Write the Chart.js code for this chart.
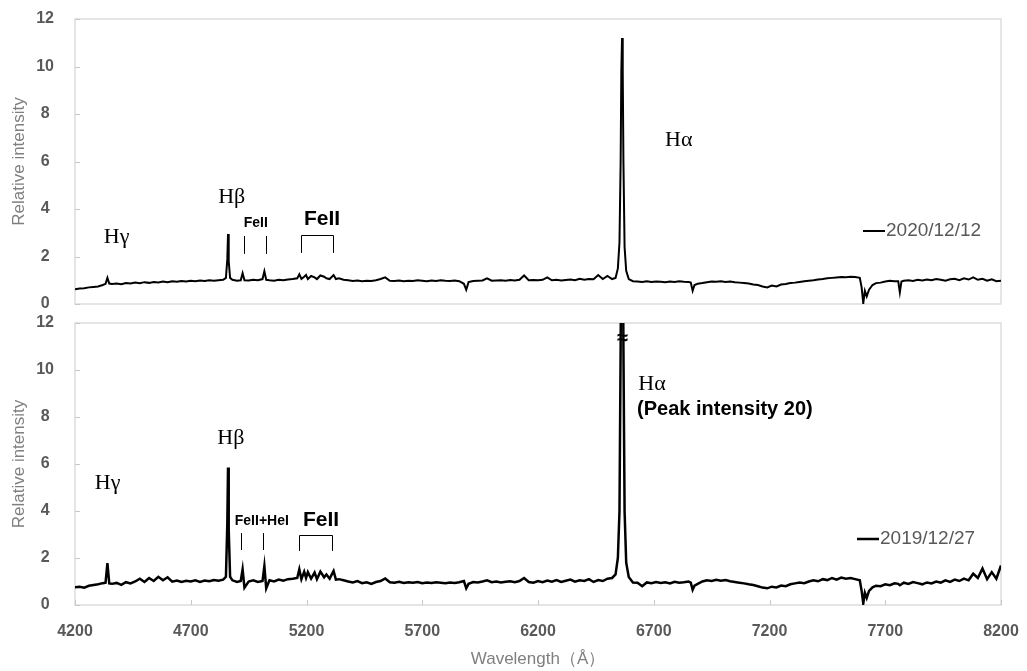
<!DOCTYPE html>
<html>
<head>
<meta charset="utf-8">
<script src="https://cdn.jsdelivr.net/npm/chart.js@4.4.1/dist/chart.umd.min.js"></script>
<style>
  html, body { margin: 0; padding: 0; background: #fff; }
  #wrap { position: relative; width: 1027px; height: 671px; }
  canvas { position: absolute; left: 0; }
  #chartTop { top: 0; }
  #chartBottom { top: 312px; }
</style>
</head>
<body>
<div id="wrap">
  <canvas id="chartTop" width="1027" height="312"></canvas>
  <canvas id="chartBottom" width="1027" height="359"></canvas>
</div>
<script>
// Wavelength grid (Å), shared by both spectra
const wavelengths = [
  4200, 4220, 4240, 4260, 4280, 4300, 4320,
  4332, 4340, 4348,
  4360, 4380, 4400, 4420, 4440, 4460, 4480, 4500, 4520, 4540, 4560, 4580, 4600, 4620, 4640, 4660, 4680, 4700, 4720, 4740, 4760, 4780, 4800, 4820, 4840,
  4852, 4858, 4861, 4864, 4870,
  4880, 4900, 4916, 4924, 4932, 4950, 4970, 4990, 5010, 5018, 5026, 5040, 5060, 5080, 5100, 5120, 5140, 5160, 5169, 5178, 5190, 5198, 5206, 5220, 5235, 5245, 5260, 5276, 5286, 5300, 5317, 5327, 5340,
  5360, 5380, 5400, 5420, 5440, 5460, 5480, 5500, 5520, 5540, 5560, 5580, 5600, 5620, 5640, 5660, 5680, 5700, 5720, 5740, 5760, 5780, 5800, 5820, 5840, 5860,
  5880, 5890, 5900,
  5920, 5940, 5960, 5980, 6000, 6020, 6040, 6060, 6080, 6100, 6120, 6140, 6160, 6180, 6200, 6220, 6240, 6260, 6280, 6300, 6320, 6340, 6360, 6380, 6400, 6420, 6440, 6460, 6480, 6500, 6520,
  6535, 6545, 6552, 6557, 6560, 6563, 6566, 6569, 6574, 6581, 6592, 6610,
  6630, 6650, 6670, 6690, 6710, 6730, 6750, 6770, 6790, 6810, 6830, 6850,
  6860, 6868, 6876, 6890,
  6910, 6930, 6950, 6970, 6990, 7010, 7030, 7050, 7070, 7090, 7110, 7130, 7150, 7170, 7190, 7210, 7230, 7250, 7270, 7290, 7310, 7330, 7350, 7370, 7390, 7410, 7430, 7450, 7470, 7490, 7510, 7530, 7550, 7570, 7590,
  7598, 7605, 7612, 7620, 7630, 7645, 7660,
  7680, 7700, 7720, 7740, 7756, 7763, 7770, 7780, 7800, 7820, 7840, 7860, 7880, 7900, 7920, 7940, 7960, 7980, 8000, 8020, 8040, 8060, 8080, 8100, 8120, 8140, 8160, 8180, 8200
];

// 2020/12/12 spectrum
const intensity2020 = [
  0.62, 0.65, 0.66, 0.70, 0.72, 0.74, 0.80,
  0.85, 1.10, 0.86,
  0.84, 0.86, 0.83, 0.88, 0.86, 0.90, 0.87, 0.92, 0.89, 0.93, 0.91, 0.95, 0.92, 0.96, 0.94, 0.97, 0.95, 0.98, 0.96, 0.99, 0.97, 1.00, 0.98, 1.00, 1.02,
  1.10, 1.90, 2.95, 1.80, 1.10,
  1.02, 0.98, 1.00, 1.30, 1.00, 0.99, 1.02, 1.00, 1.05, 1.38, 1.02, 1.00, 0.98, 1.02, 1.00, 1.03, 1.05, 1.08, 1.25, 1.06, 1.15, 1.22, 1.05, 1.18, 1.12, 1.05, 1.20, 1.15, 1.08, 1.05, 1.22, 1.05, 1.08,
  1.02, 1.00, 0.97, 0.99, 0.96, 0.98, 0.97, 1.00, 1.05, 1.12, 0.98, 0.97, 0.99, 0.96, 0.98, 0.97, 1.00, 0.98, 0.96, 0.99, 0.97, 1.00, 0.98, 0.97, 0.99, 0.96,
  0.85, 0.60, 0.92,
  0.97, 0.98, 0.99, 1.08, 0.98, 0.99, 1.00, 0.98, 1.01, 0.99, 1.02, 1.20, 1.00, 1.01, 1.00, 1.02, 1.12, 1.00, 1.02, 0.99, 1.01, 1.03, 1.00, 1.06, 1.02, 1.05, 1.04, 1.22, 1.05, 1.18, 1.05,
  1.10, 1.50, 2.60, 6.00, 9.80, 11.20, 9.80, 6.00, 2.40, 1.40, 1.05, 0.96,
  0.95, 0.93, 0.96, 0.93, 0.95, 0.94, 0.92, 0.95, 0.93, 0.96, 0.94, 0.93,
  0.90, 0.56, 0.80, 0.85,
  0.88, 0.92, 0.95, 0.94, 0.96, 0.93, 0.95, 0.92, 0.90, 0.88, 0.86, 0.82, 0.80, 0.74, 0.70, 0.78, 0.74, 0.82, 0.84, 0.88, 0.90, 0.93, 0.96, 0.98, 1.00, 1.03, 1.05, 1.08, 1.10, 1.12, 1.14, 1.13, 1.15, 1.14, 1.10,
  0.70, 0.03, 0.55, 0.32, 0.60, 0.80, 0.88,
  0.90, 0.95, 0.98, 0.96, 0.96, 0.49, 0.95, 0.98, 1.00, 0.97, 1.02, 0.99, 1.03, 1.00, 1.05, 1.02, 0.98, 1.04, 1.06, 1.00, 1.08, 1.03, 1.12, 1.02, 1.06, 0.98, 1.04, 0.96, 0.98
];

// 2019/12/27 spectrum (H-alpha peak 20, off scale)
const intensity2019 = [
  0.75, 0.78, 0.74, 0.82, 0.85, 0.88, 0.93,
  0.95, 1.78, 0.92,
  0.90, 0.94, 0.86, 0.97, 0.92, 1.00, 1.12, 0.98, 1.15, 1.02, 1.20, 1.05, 1.18, 0.99, 1.04, 0.98, 1.03, 1.00, 1.05, 0.98, 1.04, 1.01, 1.06, 1.03, 1.08,
  1.20, 3.50, 5.85, 3.20, 1.20,
  1.05, 0.98, 1.02, 1.52, 0.74, 1.00, 1.05, 0.98, 1.02, 1.66, 0.71, 1.05, 1.00, 1.08, 1.03, 1.10, 1.12, 1.15, 1.52, 1.10, 1.42, 1.15, 1.40, 1.12, 1.38, 1.10, 1.42, 1.18, 1.30, 1.12, 1.45, 1.08, 1.10,
  1.05, 1.00, 0.96, 1.02, 0.93, 0.97, 0.90, 0.98, 1.02, 1.13, 0.97, 0.95, 0.99, 0.94, 0.97, 0.95, 0.98, 0.93, 0.96, 0.94, 0.97, 0.95, 0.93, 0.96, 0.94, 0.97,
  1.02, 0.71, 0.90,
  0.98, 0.96, 1.00, 1.05, 0.97, 1.00, 0.96, 0.99, 1.01, 0.97, 1.02, 1.15, 0.98, 0.95, 1.02, 0.97, 1.04, 0.99, 1.06, 0.98, 1.03, 1.08, 0.99, 1.05, 1.02, 1.10, 0.98, 1.06, 1.02, 1.12, 1.15,
  1.30, 2.00, 4.00, 11.00, 17.00, 20.00, 17.00, 11.00, 4.00, 1.80, 1.19, 0.96,
  0.95, 0.80, 0.96, 0.93, 0.98, 0.94, 0.97, 0.92, 0.99, 0.95, 0.97, 1.00,
  0.95, 0.65, 0.82, 0.90,
  1.00, 1.05, 1.02, 1.07, 1.03, 1.06, 1.01, 0.98, 0.95, 0.92, 0.88, 0.85, 0.80, 0.74, 0.71, 0.78, 0.75, 0.83, 0.80, 0.88, 0.92, 0.96, 0.93, 1.00, 1.05, 1.01, 1.10, 1.06, 1.15, 1.08, 1.17, 1.12, 1.15, 1.10, 1.05,
  0.60, 0.07, 0.52, 0.30, 0.60, 0.75, 0.82,
  0.80, 0.88, 0.84, 0.92, 0.90, 0.84, 0.88, 0.95, 0.90, 0.98, 0.93, 0.88, 0.96, 0.92, 1.00, 0.95, 1.05, 0.98, 1.08, 1.02, 1.12, 1.05, 1.33, 1.15, 1.55, 1.10, 1.40, 1.12, 1.68
];

const xTickValues = [4200, 4700, 5200, 5700, 6200, 6700, 7200, 7700, 8200];
const yTickValues = [0, 2, 4, 6, 8, 10, 12];

const SANS = '"Liberation Sans", Arial, sans-serif';
const SERIF = '"Liberation Serif", "Times New Roman", serif';

// line identifications, placed in data units (wavelength, intensity)
const topNotes = [
  { text: 'Hγ', x: 4380, y: 2.82, font: '22px ' + SERIF },
  { text: 'Hβ', x: 4877, y: 4.5, font: '22px ' + SERIF },
  { text: 'FeII', x: 4981, y: 3.41, font: 'bold 14px ' + SANS },
  { text: 'FeII', x: 5267, y: 3.58, font: 'bold 21px ' + SANS },
  { text: 'Hα', x: 6808, y: 6.9, font: '22px ' + SERIF }
];
const topMarkers = [[4929, 2.11, 2.86], [5025, 2.11, 2.86]];
const topBrackets = [[5176, 5315, 2.9, 2.15]];

const bottomNotes = [
  { text: 'Hγ', x: 4341, y: 5.19, font: '22px ' + SERIF },
  { text: 'Hβ', x: 4873, y: 7.1, font: '22px ' + SERIF },
  { text: 'FeII+HeI', x: 5007, y: 3.57, font: 'bold 14px ' + SANS },
  { text: 'FeII', x: 5263, y: 3.62, font: 'bold 21px ' + SANS },
  { text: 'Hα', x: 6633, y: 9.4, font: '22px ' + SERIF, align: 'left' },
  { text: '(Peak intensity 20)', x: 6628, y: 8.3, font: 'bold 20px ' + SANS, align: 'left' },
  { text: '≈', x: 6566, y: 11.35, font: 'bold 20px ' + SANS }
];
const bottomMarkers = [[4916, 2.34, 3.06], [5012, 2.34, 3.06]];
const bottomBrackets = [[5167, 5310, 2.98, 2.3]];

// frame, inward tick marks, labels and legend
const decorPlugin = {
  id: 'decor',
  beforeDatasetsDraw(chart, args, opts) {
    const { ctx, chartArea: a } = chart;
    const x = chart.scales.x, y = chart.scales.y;
    ctx.save();
    ctx.strokeStyle = '#d4d4d4';
    ctx.lineWidth = 1.2;
    ctx.strokeRect(a.left, a.top, a.right - a.left, a.bottom - a.top);
    ctx.strokeStyle = '#c8c8c8';
    ctx.lineWidth = 1;
    ctx.beginPath();
    yTickValues.forEach(v => {
      const py = Math.round(y.getPixelForValue(v)) + 0.5;
      ctx.moveTo(a.left, py);
      ctx.lineTo(a.left + 5, py);
    });
    if (opts.xTicks) {
      xTickValues.forEach(v => {
        const px = Math.round(x.getPixelForValue(v)) + 0.5;
        ctx.moveTo(px, a.bottom);
        ctx.lineTo(px, a.bottom - 5);
      });
    }
    ctx.stroke();
    ctx.restore();
  },
  afterDatasetsDraw(chart, args, opts) {
    const { ctx, chartArea: a } = chart;
    const x = chart.scales.x, y = chart.scales.y;
    ctx.save();
    ctx.fillStyle = '#000';
    ctx.textBaseline = 'middle';
    opts.notes.forEach(n => {
      ctx.font = n.font;
      ctx.textAlign = n.align || 'center';
      ctx.fillText(n.text, x.getPixelForValue(n.x), y.getPixelForValue(n.y));
    });
    ctx.strokeStyle = '#000';
    ctx.lineWidth = 1;
    ctx.beginPath();
    opts.markers.forEach(m => {
      const px = Math.round(x.getPixelForValue(m[0])) + 0.5;
      ctx.moveTo(px, y.getPixelForValue(m[1]));
      ctx.lineTo(px, y.getPixelForValue(m[2]));
    });
    opts.brackets.forEach(b => {
      const x0 = Math.round(x.getPixelForValue(b[0])) + 0.5;
      const x1 = Math.round(x.getPixelForValue(b[1])) + 0.5;
      const yt = Math.round(y.getPixelForValue(b[2])) + 0.5;
      const yb = y.getPixelForValue(b[3]);
      ctx.moveTo(x0, yb);
      ctx.lineTo(x0, yt);
      ctx.lineTo(x1, yt);
      ctx.lineTo(x1, yb);
    });
    ctx.stroke();

    // legend
    const ds = chart.data.datasets[0];
    const ly = a.top + opts.legendY;
    ctx.strokeStyle = '#000';
    ctx.lineWidth = ds.borderWidth;
    ctx.beginPath();
    ctx.moveTo(a.right - opts.legendX, ly);
    ctx.lineTo(a.right - opts.legendX + 22, ly);
    ctx.stroke();
    ctx.fillStyle = '#595959';
    ctx.font = '19px ' + SANS;
    ctx.textAlign = 'left';
    ctx.fillText(ds.label, a.right - opts.legendX + 23, ly);
    ctx.restore();
  }
};

function makeChart(canvasId, label, values, lineWidth, showX, padding, decor) {
  const ctx = document.getElementById(canvasId).getContext('2d');
  return new Chart(ctx, {
    type: 'line',
    data: {
      datasets: [{
        label: label,
        data: wavelengths.map((w, i) => ({ x: w, y: values[i] })),
        borderColor: '#000',
        borderWidth: lineWidth,
        pointRadius: 0,
        tension: 0,
        fill: false
      }]
    },
    options: {
      responsive: false,
      animation: false,
      layout: { padding: padding },
      plugins: {
        legend: { display: false },
        tooltip: { enabled: false },
        decor: decor
      },
      scales: {
        x: {
          type: 'linear',
          min: 4200,
          max: 8200,
          display: showX,
          afterBuildTicks: s => { s.ticks = xTickValues.map(v => ({ value: v })); },
          afterFit: s => {
            s.height = showX ? 66 : 0;
            s.paddingLeft = 0;
            s.paddingRight = 0;
          },
          grid: { display: false },
          border: { display: false },
          ticks: {
            color: '#595959',
            font: { family: SANS, size: 16, weight: 'bold' },
            padding: 9,
            maxRotation: 0,
            autoSkip: false,
            callback: v => String(v)
          },
          title: {
            display: true,
            text: 'Wavelength（Å）',
            color: '#7f7f7f',
            font: { family: SANS, size: 17 },
            padding: { top: 0, bottom: 1 }
          }
        },
        y: {
          min: 0,
          max: 12,
          afterBuildTicks: s => { s.ticks = yTickValues.map(v => ({ value: v })); },
          afterFit: s => {
            s.width = 75;
            s.paddingTop = 0;
            s.paddingBottom = 0;
          },
          grid: { display: false },
          border: { display: false },
          ticks: {
            color: '#595959',
            font: { family: SANS, size: 16, weight: 'bold' },
            crossAlign: 'center',
            padding: 13,
            callback: v => String(v)
          },
          title: {
            display: true,
            text: 'Relative intensity',
            color: '#7f7f7f',
            font: { family: SANS, size: 17 },
            padding: { top: 9, bottom: 0 }
          }
        }
      }
    },
    plugins: [decorPlugin]
  });
}

makeChart('chartTop', '2020/12/12', intensity2020, 2, false,
  { left: 0, right: 26, top: 19, bottom: 8 },
  { notes: topNotes, markers: topMarkers, brackets: topBrackets, xTicks: false, legendX: 138, legendY: 212 });

makeChart('chartBottom', '2019/12/27', intensity2019, 2.5, true,
  { left: 0, right: 26, top: 11, bottom: 0 },
  { notes: bottomNotes, markers: bottomMarkers, brackets: bottomBrackets, xTicks: true, legendX: 144, legendY: 216 });
</script>
</body>
</html>
